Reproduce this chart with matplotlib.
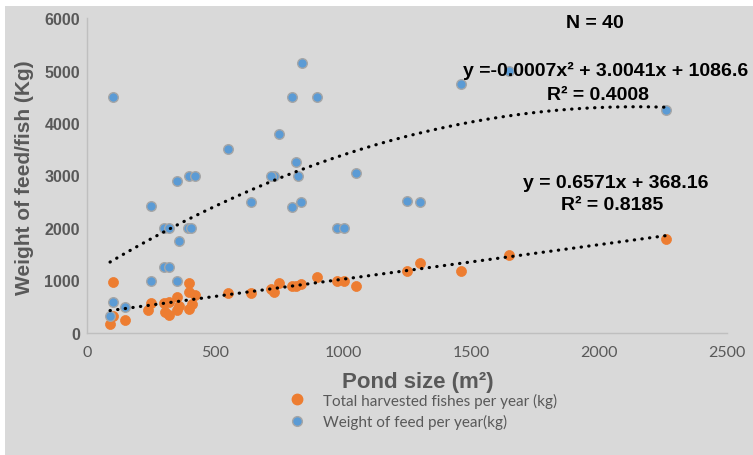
import numpy as np
import matplotlib
matplotlib.use("Agg")
import matplotlib.pyplot as plt
from matplotlib.lines import Line2D
from matplotlib.patches import Rectangle

# ---- data ----
fish_x = [90, 100, 100, 150, 240, 250, 300, 320, 305, 320, 350, 350, 360, 400, 400, 420,
          400, 410, 550, 640, 730, 750, 720, 800, 815, 835, 900, 975, 1005, 1050,
          1250, 1300, 1460, 1650, 2260]
fish_y = [170, 330, 980, 240, 430, 570, 570, 590, 400, 340, 680, 430, 520, 950, 790, 720,
          460, 550, 760, 760, 790, 950, 830, 890, 900, 940, 1070, 1000, 1000, 890,
          1180, 1330, 1185, 1490, 1785]

feed_x = [100, 100, 90, 150, 250, 350, 300, 320, 250, 300, 320, 360, 395, 405, 350, 400,
          420, 550, 640, 730, 720, 750, 800, 840, 900, 815, 825, 800, 835, 975, 1005,
          1050, 1250, 1300, 1460, 1650, 2260]
feed_y = [4500, 600, 320, 500, 1000, 1000, 1250, 1250, 2420, 2000, 2000, 1750, 2000, 2000,
          2900, 3000, 3000, 3500, 2500, 3000, 3000, 3800, 4500, 5150, 4500, 3250, 3000,
          2400, 2500, 2000, 2000, 3050, 2520, 2500, 4750, 5000, 4250]

# trendline coefficients as printed on the chart (highest power first)
fish_fit = [0.6571, 368.16]
feed_fit = [-0.0007, 3.0041, 1086.6]

x_ticks = [0, 500, 1000, 1500, 2000, 2500]
y_ticks = [0, 1000, 2000, 3000, 4000, 5000, 6000]

series_labels = ["Total harvested fishes per year (kg)", "Weight of feed per year(kg)"]
fish_eq = ["y = 0.6571x + 368.16", "R² = 0.8185"]
feed_eq = ["y =-0.0007x² + 3.0041x + 1086.6", "R² = 0.4008"]
n_text = "N = 40"

# ---- style ----
BG = "#d9d9d9"
ORANGE = "#ed7d31"
BLUE = "#5b9bd5"
TXT = "#595959"
BOLD_FONT = ["Liberation Sans", "DejaVu Sans"]
REG_FONT = ["Lato", "DejaVu Sans"]

fig = plt.figure(figsize=(7.53, 4.56), dpi=100)
fig.patch.set_facecolor("white")
fig.patches.append(Rectangle((5 / 753, 0), 1, 1 - 7 / 456, transform=fig.transFigure,
                             facecolor=BG, edgecolor="none", zorder=-10))

ax = fig.add_axes([87 / 753, 1 - 334 / 456, 640 / 753, 315 / 456])
ax.set_facecolor(BG)
ax.set_xlim(0, 2500)
ax.set_ylim(0, 6000)

ax.scatter(fish_x, fish_y, s=52, color=ORANGE, edgecolors=ORANGE, linewidths=0.5, zorder=3)
ax.scatter(feed_x, feed_y, s=48, color=BLUE, edgecolors="#a6a6a6", linewidths=1.0, zorder=4)

xf = np.linspace(min(fish_x), max(fish_x), 200)
ax.plot(xf, np.polyval(fish_fit, xf), color="black", lw=2.3,
        linestyle=(0, (0.1, 2.3)), dash_capstyle="round", zorder=5)
xb = np.linspace(min(feed_x), max(feed_x), 200)
ax.plot(xb, np.polyval(feed_fit, xb), color="black", lw=2.3,
        linestyle=(0, (0.1, 2.3)), dash_capstyle="round", zorder=5)

for s in ["top", "right"]:
    ax.spines[s].set_visible(False)
for s in ["left", "bottom"]:
    ax.spines[s].set_color("#bfbfbf")
    ax.spines[s].set_linewidth(1.0)

ax.set_xticks(x_ticks)
ax.set_yticks(y_ticks)
ax.tick_params(length=0)
ax.set_xticklabels([str(t) for t in x_ticks], fontsize=11.5, color=TXT, family=REG_FONT)
ax.set_yticklabels([str(t) for t in y_ticks], fontsize=11.5, color=TXT, family=BOLD_FONT,
                   fontweight="bold")
ax.tick_params(axis="x", pad=9)
ax.tick_params(axis="y", pad=5)

fig.text(25 / 753, 1 - 178 / 456, "Weight of feed/fish (Kg)", rotation=90, ha="center",
         va="center", fontsize=15, fontweight="bold", color=TXT, family=BOLD_FONT)
fig.text(418 / 753, 1 - 383 / 456, "Pond size (m²)", ha="center", va="center",
         fontsize=16, fontweight="bold", color=TXT, family=BOLD_FONT)

eq_kw = dict(ha="center", va="center", fontsize=14, fontweight="bold", color="black",
             family=BOLD_FONT, zorder=6)
fig.text(595 / 753, 1 - 24 / 456, n_text, **eq_kw)
fig.text(606 / 753, 1 - 71 / 456, feed_eq[0], **eq_kw)
fig.text(598 / 753, 1 - 96 / 456, feed_eq[1], **eq_kw)
fig.text(616 / 753, 1 - 183 / 456, fish_eq[0], **eq_kw)
fig.text(612 / 753, 1 - 206 / 456, fish_eq[1], **eq_kw)

handles = [
    Line2D([], [], marker="o", linestyle="none", markersize=7.5, markerfacecolor=ORANGE,
           markeredgecolor=ORANGE),
    Line2D([], [], marker="o", linestyle="none", markersize=7, markerfacecolor=BLUE,
           markeredgecolor="#a6a6a6"),
]
leg = fig.legend(handles, series_labels, loc="center left",
                 bbox_to_anchor=(282 / 753, 1 - 412 / 456), frameon=False,
                 prop={"family": REG_FONT, "size": 11}, handletextpad=1.2,
                 labelspacing=0.45, handlelength=1.0, borderpad=0)
for t in leg.get_texts():
    t.set_color(TXT)

fig.savefig("out.png", dpi=100, facecolor=fig.get_facecolor())
